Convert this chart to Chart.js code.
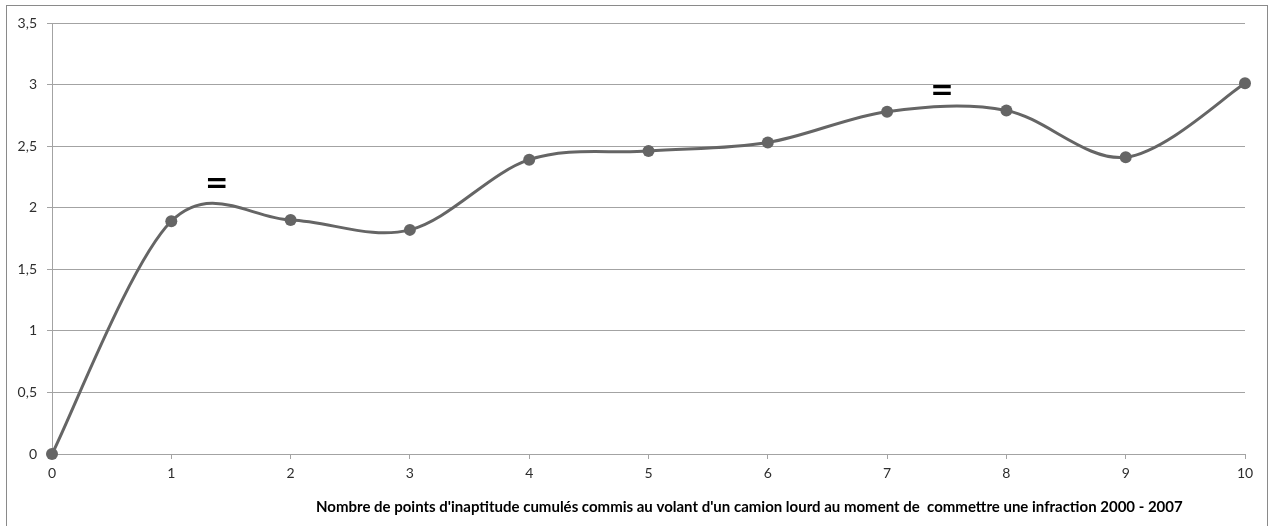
<!DOCTYPE html>
<html>
<head>
<meta charset="utf-8">
<script src="https://cdn.jsdelivr.net/npm/chart.js@4/dist/chart.umd.min.js"></script>
<style>
  html, body { margin: 0; padding: 0; background: #ffffff; }
  canvas { display: block; }
</style>
</head>
<body>
<canvas id="chart" width="1274" height="526"></canvas>
<script>
// Points d'inaptitude cumulés (axe X) et valeur moyenne associée (axe Y)
const pointsCumules = [0, 1, 2, 3, 4, 5, 6, 7, 8, 9, 10];
const valeurs = [0, 1.89, 1.90, 1.82, 2.39, 2.46, 2.53, 2.78, 2.79, 2.41, 3.01];

// Graduations des axes
const yMin = 0, yMax = 3.5, yPas = 0.5;
const xMin = 0, xMax = 10, xPas = 1;

// Signes "=" placés dans le graphique (coordonnées en valeurs d'axes)
const signesX = [1.38, 7.46];
const signesY = [2.19, 2.94];
const signesTexte = ['=', '='];

const titreAxeX = "Nombre de points d'inaptitude cumulés commis au volant d'un camion lourd au moment de  commettre une infraction 2000 - 2007";

const gris = '#a3a3a3';
const serieCouleur = '#656565';

// Cadre extérieur du graphique
const cadre = {
  id: 'cadre',
  beforeDraw(chart) {
    const ctx = chart.ctx;
    ctx.save();
    ctx.fillStyle = '#ffffff';
    ctx.fillRect(0, 0, chart.width, chart.height);
    ctx.strokeStyle = '#8a8a8a';
    ctx.lineWidth = 1;
    ctx.strokeRect(6.5, 5.5, 1261, chart.height + 10);
    ctx.restore();
  }
};

// Lissage uniforme (type Catmull-Rom) : points de contrôle à 1/6 de l'écart entre voisins
const lissage = {
  id: 'lissage',
  beforeDatasetDraw(chart, args) {
    const meta = args.meta;
    meta.dataset.updateControlPoints(chart.chartArea, meta.iScale.axis);
    const pts = meta.data;
    for (let i = 0; i < pts.length; i++) {
      const p = pts[i];
      const prev = pts[Math.max(i - 1, 0)];
      const next = pts[Math.min(i + 1, pts.length - 1)];
      const dx = (next.x - prev.x) / 6;
      const dy = (next.y - prev.y) / 6;
      p.cp1x = p.x - dx; p.cp1y = p.y - dy;
      p.cp2x = p.x + dx; p.cp2y = p.y + dy;
    }
  }
};

// Signes "=" et titre de l'axe horizontal
const annotations = {
  id: 'annotations',
  afterDraw(chart) {
    const ctx = chart.ctx;
    const sx = chart.scales.x, sy = chart.scales.y;
    ctx.save();
    ctx.fillStyle = '#000000';
    ctx.textAlign = 'center';
    ctx.textBaseline = 'middle';
    ctx.font = 'bold 28px "DejaVu Sans"';
    signesTexte.forEach((t, i) => {
      ctx.fillText(t, sx.getPixelForValue(signesX[i]), sy.getPixelForValue(signesY[i]));
    });
    ctx.font = 'bold 15px Lato';
    ctx.textAlign = 'left';
    ctx.fillText(titreAxeX, 316, 507);
    ctx.restore();
  }
};

new Chart(document.getElementById('chart'), {
  type: 'line',
  data: {
    datasets: [{
      data: pointsCumules.map((x, i) => ({ x: x, y: valeurs[i] })),
      borderColor: serieCouleur,
      backgroundColor: serieCouleur,
      borderWidth: 3,
      pointRadius: 6,
      pointHoverRadius: 6,
      pointBackgroundColor: serieCouleur,
      pointBorderColor: serieCouleur,
      pointBorderWidth: 0,
      tension: 0.5,
      fill: false,
      clip: false
    }]
  },
  options: {
    responsive: false,
    animation: false,
    events: [],
    layout: { padding: { top: 23, right: 29, left: 0, bottom: 0 } },
    plugins: {
      legend: { display: false },
      tooltip: { enabled: false }
    },
    scales: {
      x: {
        type: 'linear',
        min: xMin,
        max: xMax,
        afterFit(scale) { scale.height = 72; },
        ticks: {
          stepSize: xPas,
          padding: 6,
          color: '#2e2e2e',
          font: { family: 'Lato', size: 14 }
        },
        grid: {
          drawOnChartArea: false,
          drawTicks: true,
          tickLength: 5,
          color: gris
        },
        border: { display: true, color: gris, width: 1 }
      },
      y: {
        min: yMin,
        max: yMax,
        afterFit(scale) { scale.width = 52; },
        ticks: {
          stepSize: yPas,
          padding: 10,
          color: '#2e2e2e',
          font: { family: 'Lato', size: 14 },
          callback: (v) => String(v).replace('.', ',')
        },
        grid: {
          color: gris,
          lineWidth: 1,
          drawTicks: true,
          tickLength: 5
        },
        border: { display: true, color: gris, width: 1 }
      }
    }
  },
  plugins: [cadre, lissage, annotations]
});
</script>
</body>
</html>
